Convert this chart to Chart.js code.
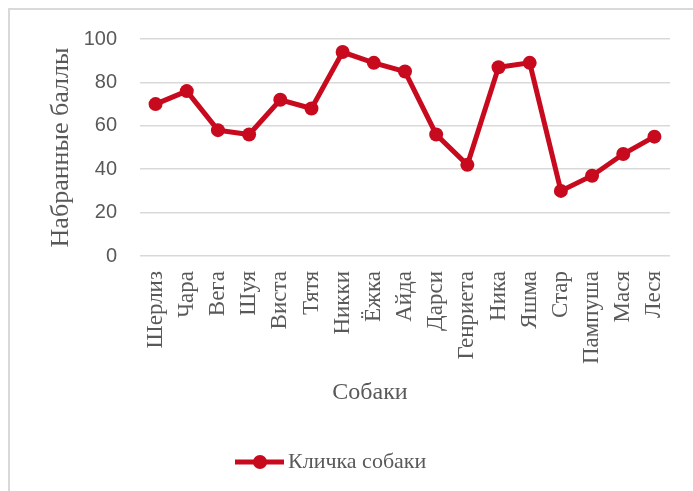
<!DOCTYPE html>
<html>
<head>
<meta charset="utf-8">
<script src="https://cdn.jsdelivr.net/npm/chart.js@4"></script>
<style>
  html, body { margin: 0; padding: 0; background: #fff; overflow: hidden; }
  #frame { position: absolute; left: 8px; top: 8px; width: 720px; height: 520px;
           border-left: 2px solid #d9d9d9; border-top: 2px solid #d9d9d9; }
  #wrap { position: absolute; left: 0; top: 0; width: 693px; height: 491px; }
</style>
</head>
<body>
<div id="frame"></div>
<div id="wrap"><canvas id="chart" width="693" height="491"></canvas></div>
<script>
// Chart data
const dogs = ['Шерлиз', 'Чара', 'Вега', 'Шуя', 'Виста', 'Тятя', 'Никки', 'Ёжка', 'Айда',
              'Дарси', 'Генриета', 'Ника', 'Яшма', 'Стар', 'Пампуша', 'Мася', 'Леся'];
const scores = [70, 76, 58, 56, 72, 68, 94, 89, 85, 56, 42, 87, 89, 30, 37, 47, 55];
const seriesName = 'Кличка собаки';
const xTitle = 'Собаки';
const yTitle = 'Набранные баллы';

const RED = '#c80a1e';
const GREY = '#595959';
const SERIF = '"Liberation Serif", "Times New Roman", serif';

// x-axis title and legend drawn by hand, Excel places them off-centre
const extras = {
    id: 'extras',
    afterDraw(chart) {
        const ctx = chart.ctx;
        const a = chart.chartArea;
        ctx.save();
        ctx.fillStyle = GREY;
        ctx.textAlign = 'center';
        ctx.textBaseline = 'middle';
        ctx.font = '24px ' + SERIF;
        ctx.fillText(xTitle, a.left + 230, a.bottom + 137);

        const ly = a.bottom + 206;
        const lx = a.left + 95;
        ctx.strokeStyle = RED;
        ctx.lineWidth = 5;
        ctx.beginPath();
        ctx.moveTo(lx, ly);
        ctx.lineTo(lx + 49, ly);
        ctx.stroke();
        ctx.fillStyle = RED;
        ctx.beginPath();
        ctx.arc(lx + 25, ly, 7, 0, Math.PI * 2);
        ctx.fill();
        ctx.fillStyle = GREY;
        ctx.textAlign = 'left';
        ctx.font = '22px ' + SERIF;
        ctx.fillText(seriesName, lx + 53, ly);
        ctx.restore();
    }
};

new Chart(document.getElementById('chart').getContext('2d'), {
    type: 'line',
    data: {
        labels: dogs,
        datasets: [{
            label: seriesName,
            data: scores,
            borderColor: RED,
            backgroundColor: RED,
            borderWidth: 5,
            pointRadius: 7,
            pointBackgroundColor: RED,
            pointBorderWidth: 0,
            tension: 0
        }]
    },
    options: {
        responsive: false,
        animation: false,
        layout: { padding: { left: 42, right: 23, top: 39, bottom: 0 } },
        plugins: { legend: { display: false }, tooltip: { enabled: false } },
        scales: {
            x: {
                offset: true,
                grid: { display: false, drawTicks: false },
                border: { display: false },
                ticks: {
                    autoSkip: false, minRotation: 90, maxRotation: 90, padding: 15,
                    color: GREY, font: { family: SERIF, size: 23 }
                },
                afterFit(scale) {
                    scale.height = 235;
                    scale.paddingLeft = 0;
                    scale.paddingRight = 0;
                }
            },
            y: {
                min: 0, max: 100,
                ticks: {
                    stepSize: 20, padding: 23, color: GREY,
                    font: { family: '"Liberation Sans", Arial, sans-serif', size: 20 }
                },
                grid: { color: '#d9d9d9', lineWidth: 1.5, drawTicks: false },
                border: { display: false },
                title: {
                    display: true, text: yTitle, color: GREY,
                    font: { family: SERIF, size: 26 }, padding: { top: 4, bottom: 4 }
                },
                afterFit(scale) { scale.width = 98; }
            }
        }
    },
    plugins: [extras]
});
</script>
</body>
</html>
